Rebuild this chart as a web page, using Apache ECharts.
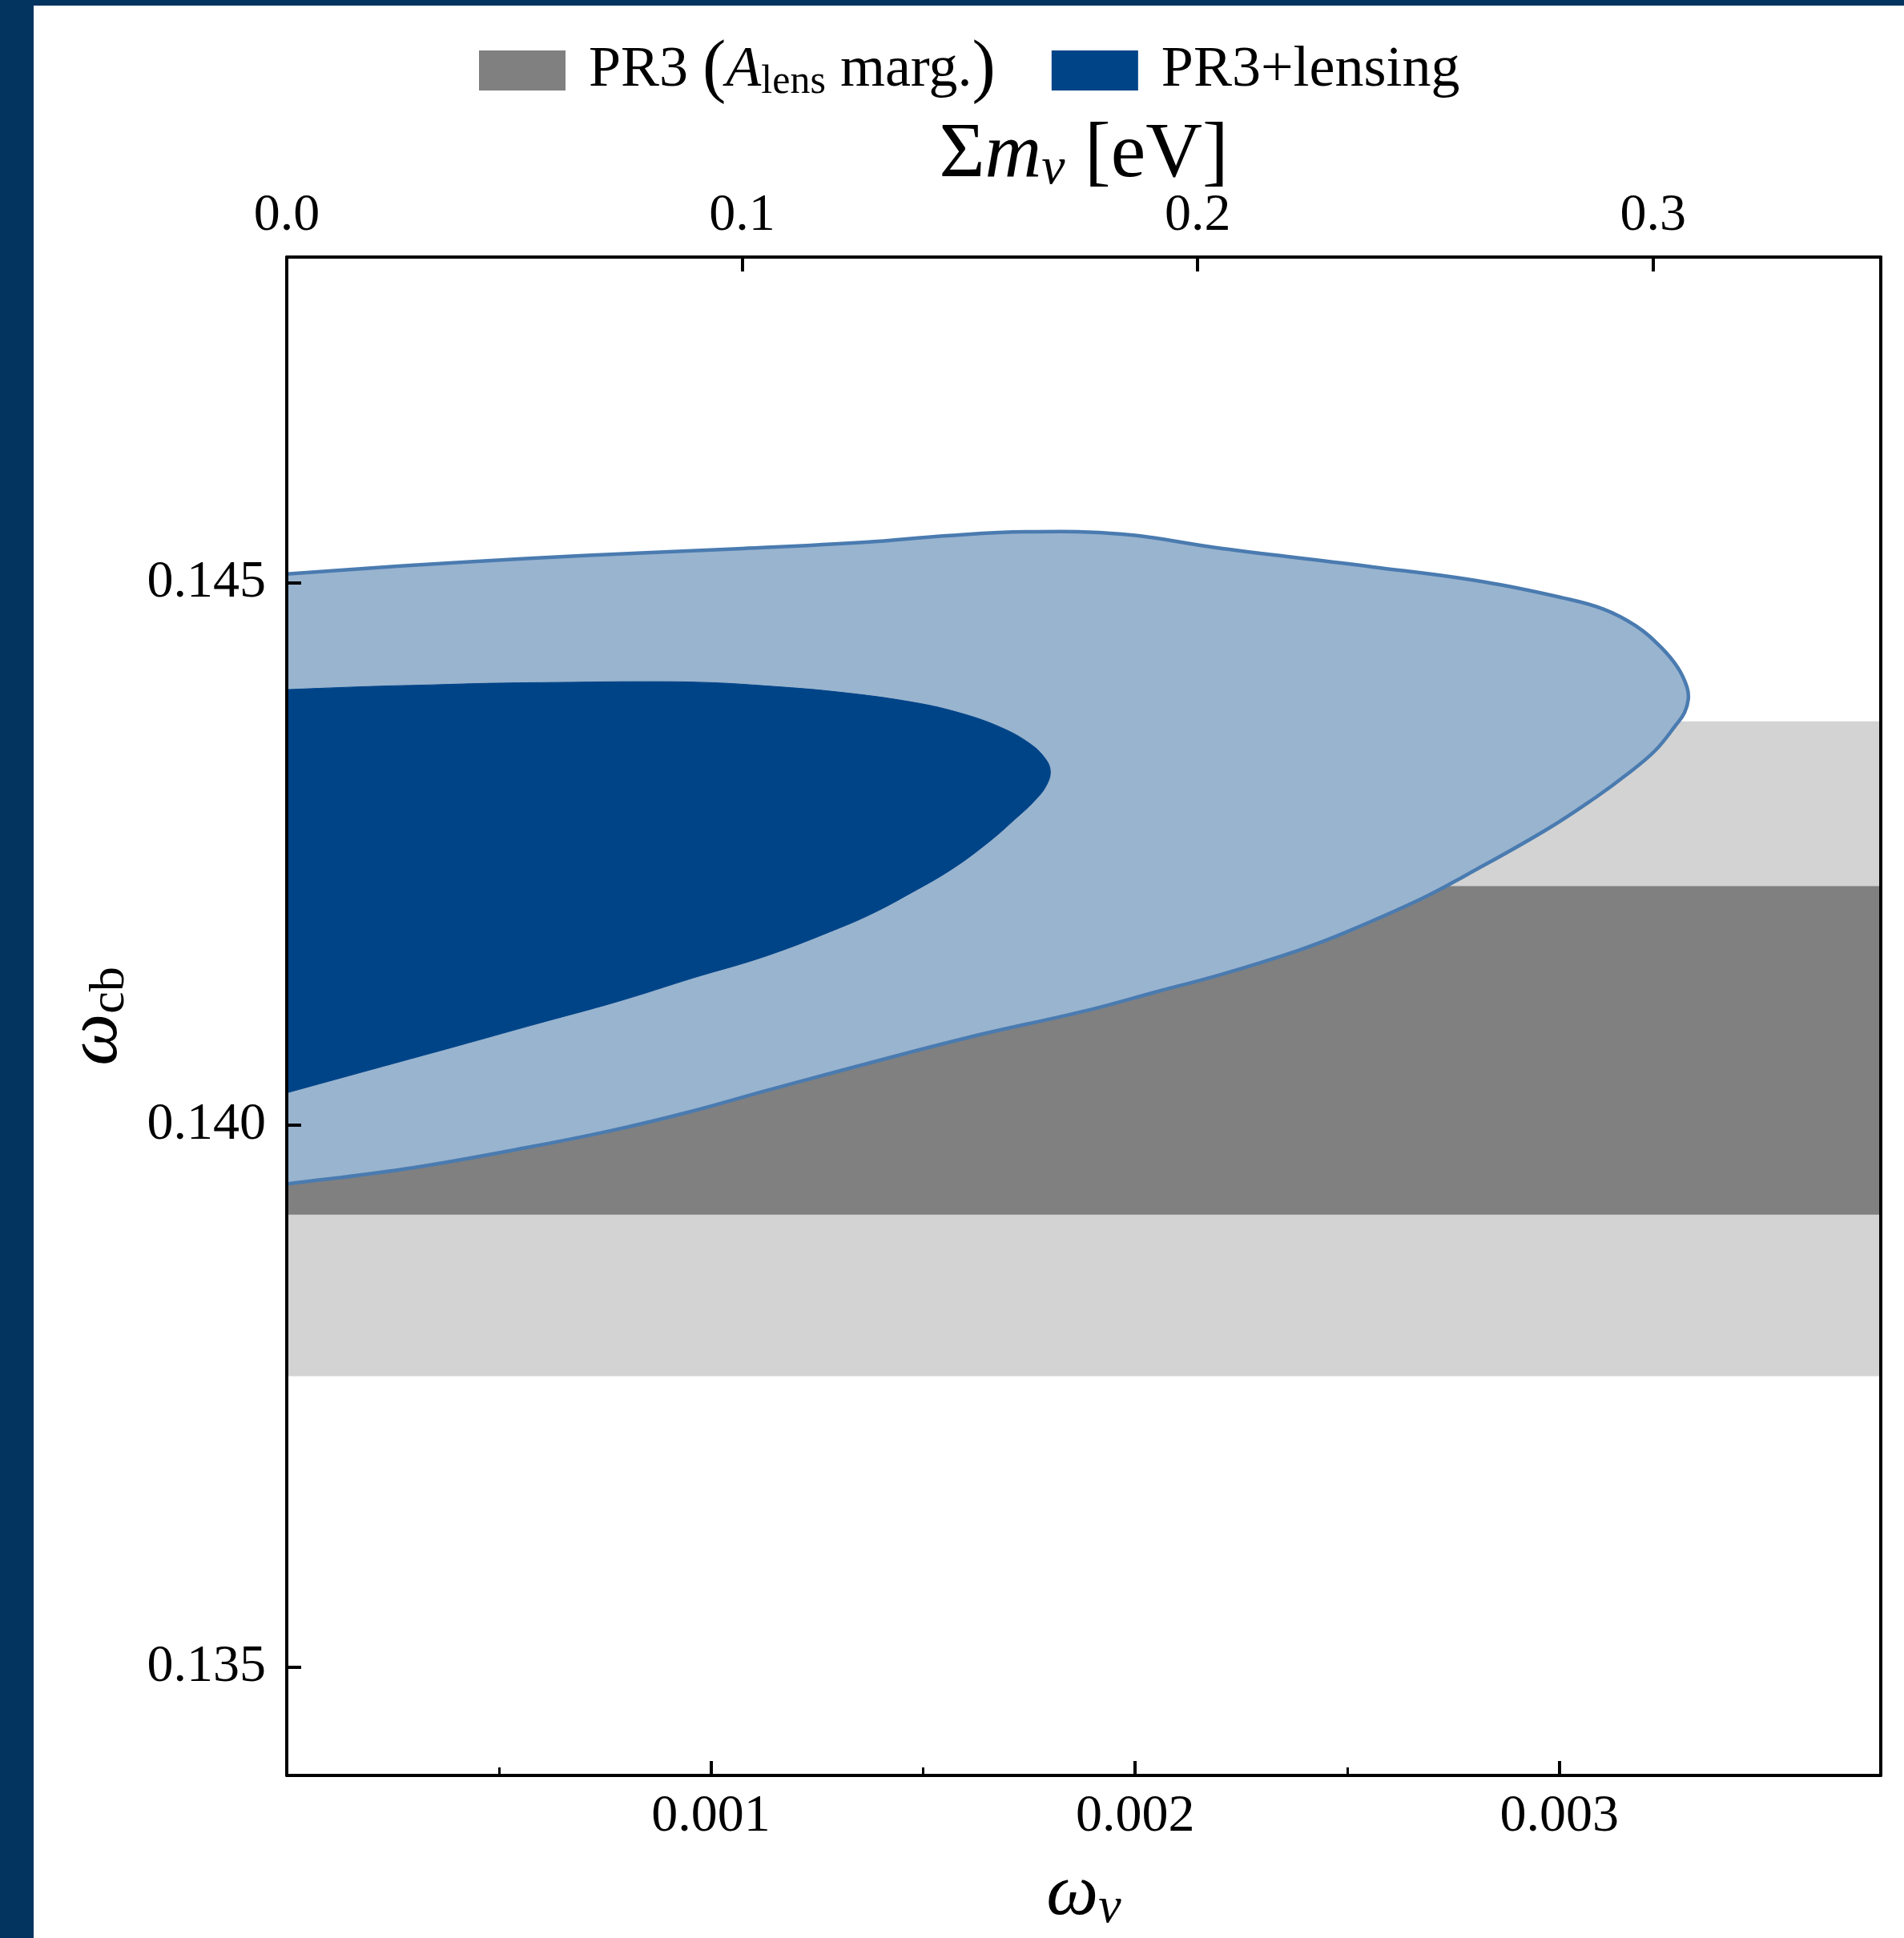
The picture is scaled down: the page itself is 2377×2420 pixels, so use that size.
<!DOCTYPE html>
<html>
<head>
<meta charset="utf-8">
<script src="https://cdn.jsdelivr.net/npm/echarts@6/dist/echarts.min.js"></script>
<style>
html,body{margin:0;padding:0;background:#fff;}
#c{width:2377px;height:2420px;}
</style>
</head>
<body>
<div id="c"></div>
<script>
// ---- axis ticks / labels ----
const omegaNuTicks = [0.001, 0.002, 0.003];
const omegaNuMinorTicks = [0.0005, 0.0015, 0.0025];
const sumMnuTicks = [0.1, 0.2, 0.3];
const sumMnuLabels = [0.0, 0.1, 0.2, 0.3];
const omegaCbTicks = [0.135, 0.140, 0.145];
const seriesNames = ['PR3 (A_lens marg.)', 'PR3+lensing'];

// ---- PR3 (A_lens marg.) : 1D bands in omega_cb [low, high] ----
const pr3Band95 = [0.13768, 0.14372];
const pr3Band68 = [0.13917, 0.14220];

// ---- PR3+lensing 95% contour (omega_nu, omega_cb) ----
const lens95X = [0, 0.000268, 0.000563, 0.000836, 0.001074, 0.001365, 0.001554, 0.001743, 0.001970, 0.002206,
  0.002560, 0.002824, 0.003009, 0.003104, 0.003180, 0.003240, 0.003280, 0.003301, 0.003304, 0.003295,
  0.003274, 0.003225, 0.003153, 0.003089, 0.002972, 0.002783, 0.002677, 0.002499, 0.002386, 0.002206,
  0.002045, 0.001892, 0.001603, 0.001314, 0.001132, 0.000949, 0.000760, 0.000563, 0.000274, 0];
const lens95Y = [0.145077, 0.145151, 0.145220, 0.145272, 0.145312, 0.145371, 0.145430, 0.145467, 0.145445, 0.145312,
  0.145143, 0.145004, 0.144857, 0.144754, 0.144600, 0.144401, 0.144210, 0.144034, 0.143924, 0.143799,
  0.143681, 0.143446, 0.143211, 0.143027, 0.142726, 0.142307, 0.142087, 0.141778, 0.141609, 0.141389,
  0.141220, 0.141058, 0.140801, 0.140507, 0.140316, 0.140118, 0.139941, 0.139787, 0.139589, 0.139453];

// ---- PR3+lensing 68% contour ----
const lens68X = [0, 0.000198, 0.000346, 0.000490, 0.000637, 0.000836, 0.000987, 0.001119, 0.001299, 0.001478,
  0.001592, 0.001686, 0.001750, 0.001786, 0.001800, 0.001790, 0.001762, 0.001716, 0.001658, 0.001569,
  0.001459, 0.001384, 0.001308, 0.001132, 0.000957, 0.000783, 0.000578, 0.000403, 0.000198, 0];
const lens68Y = [0.144012, 0.144041, 0.144056, 0.144071, 0.144078, 0.144085, 0.144078, 0.144049, 0.143990, 0.143894,
  0.143791, 0.143659, 0.143519, 0.143387, 0.143262, 0.143123, 0.142983, 0.142814, 0.142616, 0.142359,
  0.142109, 0.141954, 0.141822, 0.141558, 0.141352, 0.141139, 0.140918, 0.140727, 0.140507, 0.140294];

// ---- ranges ----
const EV_PER_OMEGA = 93.14;
const SUM_MNU_MAX = 0.35;
const X_MIN = 0, X_MAX = SUM_MNU_MAX / EV_PER_OMEGA;
const Y_MIN = 0.134, Y_MAX = 0.148;

const FONT = '"Liberation Serif", "DejaVu Serif", serif';
const C_GRAY = '#808080', C_LGRAY = '#d3d3d3';
const C_BLUE = '#004488', C_LBLUE = '#99b4cf', C_EDGE = '#4a7bb0';

// contour is cut by the left edge (x = 0); continue it straight beyond the edge (clipped away)
function contourRender(xs, ys, style) {
  return function (params, api) {
    if (params.dataIndex !== 0) return null;
    const n = xs.length;
    const pts = [];
    for (let k = 3; k >= 1; k--) pts.push(api.coord([xs[0] - k * (xs[1] - xs[0]), ys[0] - k * (ys[1] - ys[0])]));
    for (let i = 0; i < n; i++) pts.push(api.coord([xs[i], ys[i]]));
    for (let k = 1; k <= 3; k++) pts.push(api.coord([xs[n - 1] - k * (xs[n - 2] - xs[n - 1]), ys[n - 1] - k * (ys[n - 2] - ys[n - 1])]));
    return { type: 'polygon', shape: { points: pts, smooth: 0.4 }, style: style };
  };
}
function bandRender(params, api) {
  const lo = api.value(0), hi = api.value(1);
  const p1 = api.coord([X_MIN, hi]);
  const p2 = api.coord([X_MAX, lo]);
  return { type: 'rect', shape: { x: p1[0], y: p1[1], width: p2[0] - p1[0], height: p2[1] - p1[1] },
           style: { fill: api.value(2) === 1 ? C_GRAY : C_LGRAY } };
}

const rich = {
  n: { fontFamily: FONT, fontSize: 72, color: '#000', lineHeight: 86 },
  p: { fontFamily: FONT, fontSize: 88, color: '#000', lineHeight: 86 },
  i: { fontFamily: FONT, fontSize: 72, color: '#000', fontStyle: 'italic', lineHeight: 86 },
  s: { fontFamily: FONT, fontSize: 50, color: '#000', lineHeight: 86, padding: [30, 0, 0, 0] }
};
const richBig = {
  n: { fontFamily: FONT, fontSize: 98, color: '#000', lineHeight: 116 },
  i: { fontFamily: FONT, fontSize: 98, color: '#000', fontStyle: 'italic', lineHeight: 116 },
  s: { fontFamily: FONT, fontSize: 66, color: '#000', fontStyle: 'italic', lineHeight: 116, padding: [36, 0, 0, 0] }
};
const richMid = {
  i: { fontFamily: FONT, fontSize: 92, color: '#000', fontStyle: 'italic', lineHeight: 110 },
  s: { fontFamily: FONT, fontSize: 64, color: '#000', fontStyle: 'italic', lineHeight: 110, padding: [34, 0, 0, 0] },
  u: { fontFamily: FONT, fontSize: 62, color: '#000', lineHeight: 110, padding: [34, 0, 0, 0] }
};
const tickLabel = { fontFamily: FONT, fontSize: 66, color: '#000' };

const chart = echarts.init(document.getElementById('c'), null, { renderer: 'canvas' });
chart.setOption({
  animation: false,
  backgroundColor: '#fff',
  graphic: [
    { type: 'rect', left: 0, top: 0, shape: { width: 42, height: 2420 }, style: { fill: '#02345f' }, z: 100 },
    { type: 'rect', left: 0, top: 0, shape: { width: 2377, height: 7 }, style: { fill: '#02345f' }, z: 100 }
  ],
  legend: {
    data: seriesNames,
    left: 593, top: 39,
    itemWidth: 108, itemHeight: 50, itemGap: 70,
    icon: 'rect',
    selectedMode: false,
    textStyle: { fontFamily: FONT, fontSize: 72, color: '#000', padding: [0, 0, 0, 24], rich: rich },
    formatter: function (name) {
      return name === seriesNames[0] ? '{n|PR3 }{p|(}{i|A}{s|lens}{n| marg.}{p|)}' : '{n|PR3+lensing}';
    }
  },
  grid: { left: 358, top: 321, width: 1990, height: 1902, show: false },
  xAxis: [
    {
      type: 'value', position: 'bottom', min: X_MIN, max: X_MAX, interval: 0.001, z: 10,
      axisLine: { show: true, onZero: false, lineStyle: { color: '#000', width: 4 } },
      axisTick: { show: true, inside: true, length: 18, customValues: omegaNuTicks, lineStyle: { color: '#000', width: 4 } },
      axisLabel: { show: true, customValues: omegaNuTicks, margin: 19, formatter: v => v.toFixed(3), ...tickLabel },
      splitLine: { show: false },
      name: '{i|ω}{s|ν}', nameLocation: 'middle', nameGap: 94, nameTextStyle: { rich: richMid }
    },
    {
      type: 'value', position: 'bottom', min: X_MIN, max: X_MAX, interval: 0.0005, z: 10,
      axisLine: { show: false },
      axisTick: { show: true, inside: true, length: 10, customValues: omegaNuMinorTicks, lineStyle: { color: '#000', width: 3 } },
      axisLabel: { show: false },
      splitLine: { show: false }
    },
    {
      type: 'value', position: 'top', min: 0, max: SUM_MNU_MAX, interval: 0.1, z: 10,
      axisLine: { show: true, onZero: false, lineStyle: { color: '#000', width: 4 } },
      axisTick: { show: true, inside: true, length: 18, customValues: sumMnuTicks, lineStyle: { color: '#000', width: 4 } },
      axisLabel: { show: true, customValues: sumMnuLabels, margin: 18, formatter: v => v.toFixed(1), ...tickLabel },
      splitLine: { show: false },
      name: '{n|Σ}{i|m}{s|ν}{n| [eV]}', nameLocation: 'middle', nameGap: 69, nameMoveOverlap: false,
      nameTextStyle: { rich: richBig }
    }
  ],
  yAxis: [
    {
      type: 'value', position: 'left', min: Y_MIN, max: Y_MAX, z: 10,
      axisLine: { show: true, onZero: false, lineStyle: { color: '#000', width: 4 } },
      axisTick: { show: true, inside: true, length: 18, customValues: omegaCbTicks, lineStyle: { color: '#000', width: 4 } },
      axisLabel: { show: true, customValues: omegaCbTicks, margin: 26, padding: [8, 0, 0, 0], formatter: v => v.toFixed(3), ...tickLabel },
      splitLine: { show: false },
      name: '{i|ω}{u|cb}', nameLocation: 'middle', nameGap: 182, nameRotate: 90, nameTextStyle: { rich: richMid }
    },
    {
      type: 'value', position: 'right', min: Y_MIN, max: Y_MAX, z: 10,
      axisLine: { show: true, onZero: false, lineStyle: { color: '#000', width: 4 } },
      axisTick: { show: false }, axisLabel: { show: false }, splitLine: { show: false }
    }
  ],
  series: [
    {
      name: seriesNames[0], type: 'custom', xAxisIndex: 0, yAxisIndex: 0, z: 1, silent: true, clip: true,
      itemStyle: { color: C_GRAY },
      renderItem: bandRender,
      data: [[pr3Band95[0], pr3Band95[1], 2], [pr3Band68[0], pr3Band68[1], 1]]
    },
    {
      name: 'PR3+lensing 95%', type: 'custom', xAxisIndex: 0, yAxisIndex: 0, z: 2, silent: true, clip: true,
      itemStyle: { color: C_LBLUE },
      renderItem: contourRender(lens95X, lens95Y, { fill: C_LBLUE, stroke: C_EDGE, lineWidth: 4.5 }),
      data: [[lens95X[0], lens95Y[0]]]
    },
    {
      name: seriesNames[1], type: 'custom', xAxisIndex: 0, yAxisIndex: 0, z: 3, silent: true, clip: true,
      itemStyle: { color: C_BLUE },
      renderItem: contourRender(lens68X, lens68Y, { fill: C_BLUE, stroke: C_BLUE, lineWidth: 1 }),
      data: [[lens68X[0], lens68Y[0]]]
    }
  ]
});
</script>
</body>
</html>
